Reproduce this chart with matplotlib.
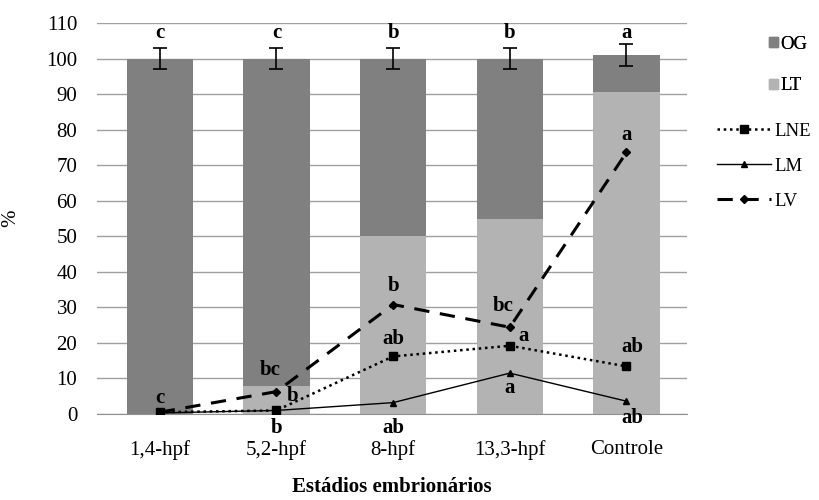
import numpy as np
import matplotlib
matplotlib.use("Agg")
import matplotlib.pyplot as plt
from matplotlib.lines import Line2D
from matplotlib.patches import Patch

plt.rcParams['font.family'] = ['Liberation Serif', 'DejaVu Serif']

# data
stages = ['1,4-hpf', '5,2-hpf', '8-hpf', '13,3-hpf', 'Controle']
lt = [0, 8, 50, 55, 90.7]
og = [100, 92, 50, 45, 10.3]
err = [3, 3, 3, 3, 3]
lne = [0.5, 1.0, 16.2, 19.2, 13.4]
lm = [0.3, 1.0, 3.2, 11.5, 3.6]
lv = [0.5, 6.3, 30.8, 24.4, 73.6]
top_letters = ['c', 'c', 'b', 'b', 'a']

# point letters: (category index, y, text, x offset)
point_letters = [
    (0, 4.5, 'c', 0.0),
    (1, 12.5, 'bc', -0.05),
    (1, 5.0, 'b', 0.14),
    (1, -4.0, 'b', 0.0),
    (2, 36.0, 'b', 0.0),
    (2, 21.0, 'ab', 0.0),
    (2, -4.0, 'ab', 0.0),
    (3, 30.5, 'bc', -0.06),
    (3, 22.0, 'a', 0.12),
    (3, 7.3, 'a', 0.0),
    (4, 78.5, 'a', 0.0),
    (4, 18.8, 'ab', 0.05),
    (4, -1.0, 'ab', 0.05),
]

c_og = '#808080'
c_lt = '#b3b3b3'

x = np.arange(len(stages))
total = np.array(lt) + np.array(og)

fig = plt.figure(figsize=(8.2, 5), dpi=100)
ax = fig.add_axes([0.118, 0.172, 0.72, 0.782])

ax.bar(x, lt, width=0.57, color=c_lt, zorder=2)
ax.bar(x, og, width=0.57, bottom=lt, color=c_og, zorder=2)
ax.errorbar(x, total, yerr=err, fmt='none', ecolor='black', elinewidth=1.2,
            capsize=5, capthick=1.2, zorder=4)

ax.plot(x, lne, linestyle=(0, (1, 1.5)), color='black', lw=1.8, marker='s', ms=6, zorder=5)
ax.plot(x, lm, linestyle='-', color='black', lw=1.0, marker='^', ms=5, zorder=5)
ax.plot(x, lv, linestyle=(0, (5, 3.5)), color='black', lw=2.2, marker='D', ms=4, zorder=5)

for i, t in enumerate(top_letters):
    ax.text(x[i], 107.3, t, ha='center', va='center', fontsize=15, fontweight='bold')
for i, y, t, dx in point_letters:
    ax.text(x[i] + dx, y, t, ha='center', va='center', fontsize=15, fontweight='bold')

ax.set_xlim(-0.54, 4.52)
ax.set_ylim(0, 110)
ax.set_yticks(range(0, 111, 10))
ax.set_xticks(x)
ax.set_xticklabels(stages)
ax.tick_params(axis='both', labelsize=15, length=0)
ax.tick_params(axis='y', pad=14)
ax.tick_params(axis='x', pad=19)
ax.yaxis.grid(True, color='#a0a0a0', lw=1, zorder=0)
ax.set_axisbelow(True)
for s in ['top', 'right', 'left']:
    ax.spines[s].set_visible(False)
ax.spines['bottom'].set_color('#909090')

ax.set_ylabel('%', fontsize=15)
ax.yaxis.set_label_coords(-0.13, 0.5)
ax.set_xlabel('Estádios embrionários', fontsize=15, fontweight='bold', labelpad=12)

# legend
h1 = [Patch(color=c_og), Patch(color=c_lt)]
leg1 = fig.legend(h1, ['OG', 'LT'], loc='upper left', bbox_to_anchor=(0.938, 0.928),
                  frameon=False, fontsize=13.5, handlelength=0.45, handleheight=0.45,
                  handletextpad=0.15, labelspacing=1.3, borderpad=0, borderaxespad=0)
h2 = [Line2D([], [], color='black', linestyle=(0, (1, 1.5)), lw=1.8, marker='s', ms=6),
      Line2D([], [], color='black', lw=1.0, marker='^', ms=5),
      Line2D([], [], color='black', linestyle=(0, (5, 3.5)), lw=2.2, marker='D', ms=4)]
fig.legend(h2, ['LNE', 'LM', 'LV'], loc='upper left', bbox_to_anchor=(0.874, 0.755),
           frameon=False, fontsize=13.5, handlelength=2.9, handletextpad=0.2,
           labelspacing=0.95, borderpad=0, borderaxespad=0)
fig.add_artist(leg1)

fig.savefig('out.png', dpi=100)
